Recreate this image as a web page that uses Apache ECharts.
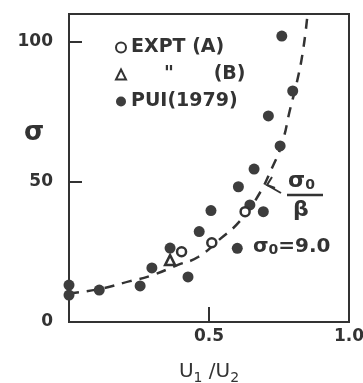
<!DOCTYPE html>
<html>
<head>
<meta charset="utf-8">
<script src="https://cdn.jsdelivr.net/npm/echarts@6/dist/echarts.min.js"></script>
<style>
  html, body { margin: 0; padding: 0; background: #fff; }
  #chart { width: 363px; height: 383px; }
</style>
</head>
<body>
<div id="chart"></div>
<script>
// values
const puiPoints = [
  [0.0, 13.2], [0.0, 9.6], [0.108, 11.4], [0.254, 12.9], [0.296, 19.3],
  [0.361, 26.4], [0.425, 16.1], [0.465, 32.3], [0.507, 39.8], [0.601, 26.3],
  [0.605, 48.3], [0.646, 41.8], [0.694, 39.4], [0.661, 54.6], [0.712, 73.6],
  [0.754, 62.9], [0.799, 82.5], [0.760, 102.1]
];
const exptA = [[0.402, 25.1], [0.510, 28.3], [0.629, 39.4]];
const exptB = [[0.361, 22.1]];
// dashed sigma0/beta curve
const curvePoints = [
  [0.0, 10.2], [0.111, 11.8], [0.218, 14.6], [0.289, 16.4], [0.389, 20.4],
  [0.461, 23.2], [0.539, 29.6], [0.611, 36.1], [0.675, 45.0], [0.725, 55.0],
  [0.761, 63.9], [0.789, 75.7], [0.814, 85.7], [0.836, 97.1], [0.852, 110]
];
const xStep = 0.5;
const yStep = 50;
const xTicks = [0.5];
const yTicks = [50, 100];

const ink = '#333';
const font = 'DejaVu Sans';

const chart = echarts.init(document.getElementById('chart'));
chart.setOption({
  backgroundColor: '#fff',
  animation: false,
  textStyle: { fontFamily: font, color: ink },
  grid: {
    left: 69, right: 14, top: 14, bottom: 61, outerBoundsMode: 'none',
    show: true, borderColor: ink, borderWidth: 2
  },
  legend: {
    orient: 'vertical', left: 110, top: 33, itemWidth: 10, itemHeight: 10, itemGap: 8,
    textStyle: { fontFamily: font, fontSize: 19, fontWeight: 'bold', color: ink },
    formatter: n => n === 'EXPT (B)' ? '     "      (B)' : n,
    data: [
      { name: 'EXPT (A)', icon: 'circle' },
      { name: 'EXPT (B)', icon: 'triangle' },
      { name: 'PUI(1979)', icon: 'circle' }
    ]
  },
  xAxis: {
    type: 'value', min: 0, max: 1, interval: xStep,
    axisLine: { show: true, onZero: false, lineStyle: { color: ink, width: 2 } },
    axisTick: { show: false },
    axisLabel: {
      showMinLabel: false, margin: 6, fontSize: 17, fontWeight: 'bold', color: ink, fontFamily: font,
      formatter: v => v === 0 ? '' : v.toFixed(1)
    },
    splitLine: { show: false },
    name: 'U{sub|1} /U{sub|2}', nameLocation: 'middle', nameGap: 37,
    nameTextStyle: {
      fontSize: 20, color: ink, fontFamily: font, lineHeight: 26, verticalAlign: 'top',
      rich: { sub: { fontSize: 14, color: ink, fontFamily: font, verticalAlign: 'bottom', lineHeight: 26 } }
    }
  },
  yAxis: {
    type: 'value', min: 0, max: 110, interval: yStep,
    axisLine: { show: true, onZero: false, lineStyle: { color: ink, width: 2 } },
    axisTick: { show: false },
    axisLabel: {
      showMaxLabel: false, margin: 16, fontSize: 17, fontWeight: 'bold', color: ink, fontFamily: font,
      formatter: v => v % yStep === 0 ? String(v) : ''
    },
    splitLine: { show: false }
  },
  series: [
    // inward tick marks, placed through the axes' scales
    {
      type: 'scatter', silent: true, z: 2, data: yTicks.map(v => [0, v]),
      symbol: 'rect', symbolSize: [13, 2], symbolOffset: [6.5, 0], itemStyle: { color: ink, opacity: 1 }
    },
    {
      type: 'scatter', silent: true, z: 2, data: xTicks.map(v => [v, 0]),
      symbol: 'rect', symbolSize: [2, 15], symbolOffset: [0, -7.5], itemStyle: { color: ink, opacity: 1 }
    },
    {
      type: 'line', data: curvePoints, smooth: true, symbol: 'none', silent: true, z: 1,
      lineStyle: { color: ink, width: 2.5, type: [10, 8] }
    },
    {
      name: 'PUI(1979)', type: 'scatter', data: puiPoints, symbol: 'circle', symbolSize: 11, z: 3,
      itemStyle: { color: '#3d3d3d', opacity: 1 }
    },
    {
      name: 'EXPT (A)', type: 'scatter', data: exptA, symbol: 'circle', symbolSize: 9, z: 4,
      itemStyle: { color: '#fff', borderColor: ink, borderWidth: 2.5, opacity: 1 }
    },
    {
      name: 'EXPT (B)', type: 'scatter', data: exptB, symbol: 'triangle', symbolSize: 10, z: 4,
      itemStyle: { color: '#fff', borderColor: ink, borderWidth: 2.5, opacity: 1 }
    }
  ],
  graphic: [
    // y axis name
    {
      type: 'text', left: 24, top: 120,
      style: { text: 'σ', fill: ink, fontFamily: font, fontSize: 26, fontWeight: 'bold' }
    },
    {
      type: 'text', left: 288, top: 170,
      style: {
        text: 'σ{sub|0}', fill: ink, fontFamily: font, fontSize: 22, fontWeight: 'bold',
        rich: { sub: { fontSize: 14, fontWeight: 'bold', fill: ink, fontFamily: font, verticalAlign: 'bottom' } }
      }
    },
    { type: 'line', shape: { x1: 287, y1: 195, x2: 323, y2: 195 }, style: { stroke: ink, lineWidth: 2.5 } },
    {
      type: 'text', left: 293, top: 199,
      style: { text: 'β', fill: ink, fontFamily: font, fontSize: 22, fontWeight: 'bold' }
    },
    { type: 'line', shape: { x1: 281, y1: 193, x2: 267, y2: 185 }, style: { stroke: ink, lineWidth: 2 } },
    { type: 'polyline', shape: { points: [[272, 177], [267, 185], [275, 188]] }, style: { stroke: ink, lineWidth: 2, fill: null } },
    {
      type: 'text', left: 253, top: 237,
      style: {
        text: 'σ{sub|0}=9.0', fill: ink, fontFamily: font, fontSize: 20, fontWeight: 'bold',
        rich: { sub: { fontSize: 14, fontWeight: 'bold', fill: ink, fontFamily: font, verticalAlign: 'bottom' } }
      }
    }
  ]
});
</script>
</body>
</html>
